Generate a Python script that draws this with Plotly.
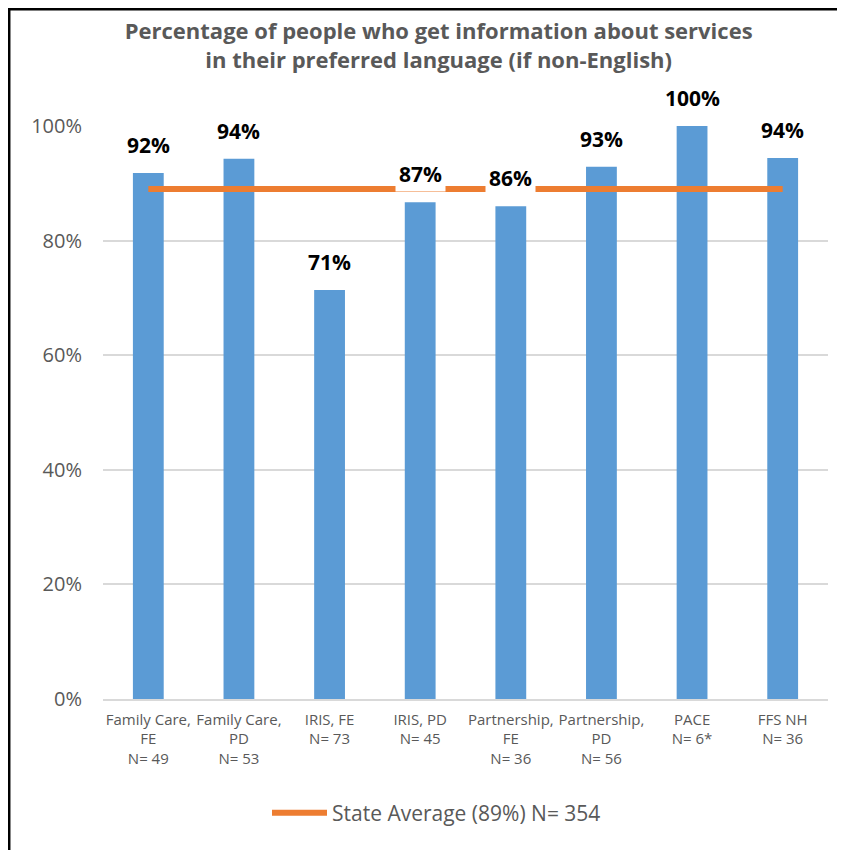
import plotly.graph_objects as go

# program labels (with sample sizes) and share of people getting info in preferred language
programs = [
    "Family Care,<br>FE<br>N= 49",
    "Family Care,<br>PD<br>N= 53",
    "IRIS, FE<br>N= 73",
    "IRIS, PD<br>N= 45",
    "Partnership,<br>FE<br>N= 36",
    "Partnership,<br>PD<br>N= 56",
    "PACE<br>N= 6*",
    "FFS NH<br>N= 36",
]
pct = [0.918, 0.943, 0.714, 0.867, 0.860, 0.929, 1.000, 0.944]
pct_labels = ["92%", "94%", "71%", "87%", "86%", "93%", "100%", "94%"]
state_avg = 0.89
state_label = "State Average (89%) N= 354"

FONT = "Open Sans"
GREY = "#595959"

fig = go.Figure()

fig.add_trace(go.Bar(
    x=programs, y=pct,
    marker=dict(color="#5B9BD5", line=dict(width=0)),
    showlegend=False, hoverinfo="skip",
))

# state average line runs from first bar centre to last bar centre
fig.add_trace(go.Scatter(
    x=[programs[0], programs[-1]], y=[state_avg, state_avg],
    mode="lines", name=state_label,
    line=dict(color="#ED7D31", width=6),
))

# data labels with white boxes so they cut the average line
for p, v, t in zip(programs, pct, pct_labels):
    fig.add_annotation(
        x=p, y=v, text="<b>%s</b>" % t, showarrow=False,
        yanchor="bottom", yshift=10,
        font=dict(family=FONT, size=21, color="#000000"),
        bgcolor="white", borderpad=3,
    )

# black frame on top and left edges (cropped screenshot look)
fig.add_shape(type="line", xref="paper", yref="paper",
              x0=-0.131, x1=1.05, y0=1.204, y1=1.204,
              line=dict(color="black", width=3))
fig.add_shape(type="line", xref="paper", yref="paper",
              x0=-0.1297, x1=-0.1297, y0=-0.3, y1=1.206,
              line=dict(color="black", width=3))

fig.update_layout(
    width=845, height=850,
    margin=dict(l=95, r=25, t=118, b=159),
    paper_bgcolor="white", plot_bgcolor="white",
    bargap=0.66,
    title=dict(
        text="<b>Percentage of people who get information about services<br>in their preferred language (if non-English)</b>",
        xref="paper", x=0.463, xanchor="center", y=0.963, yanchor="middle",
        font=dict(family=FONT, size=22, color=GREY),
    ),
    font=dict(family=FONT, color=GREY),
    legend=dict(
        orientation="h", x=0.46, xanchor="center", y=-0.199, yanchor="middle",
        font=dict(family=FONT, size=21, color=GREY), itemwidth=55,
    ),
    xaxis=dict(
        tickfont=dict(family=FONT, size=15, color=GREY),
        showline=True, linecolor="#D9D9D9", linewidth=1.5,
        ticks="", showgrid=False, ticklabelstandoff=6,
    ),
    yaxis=dict(
        range=[0, 1], tickformat=".0%", dtick=0.2,
        tickfont=dict(family=FONT, size=20, color=GREY),
        gridcolor="#D9D9D9", gridwidth=1.5,
        zeroline=False, ticklabelstandoff=20,
    ),
)

fig.write_html("out.html")
